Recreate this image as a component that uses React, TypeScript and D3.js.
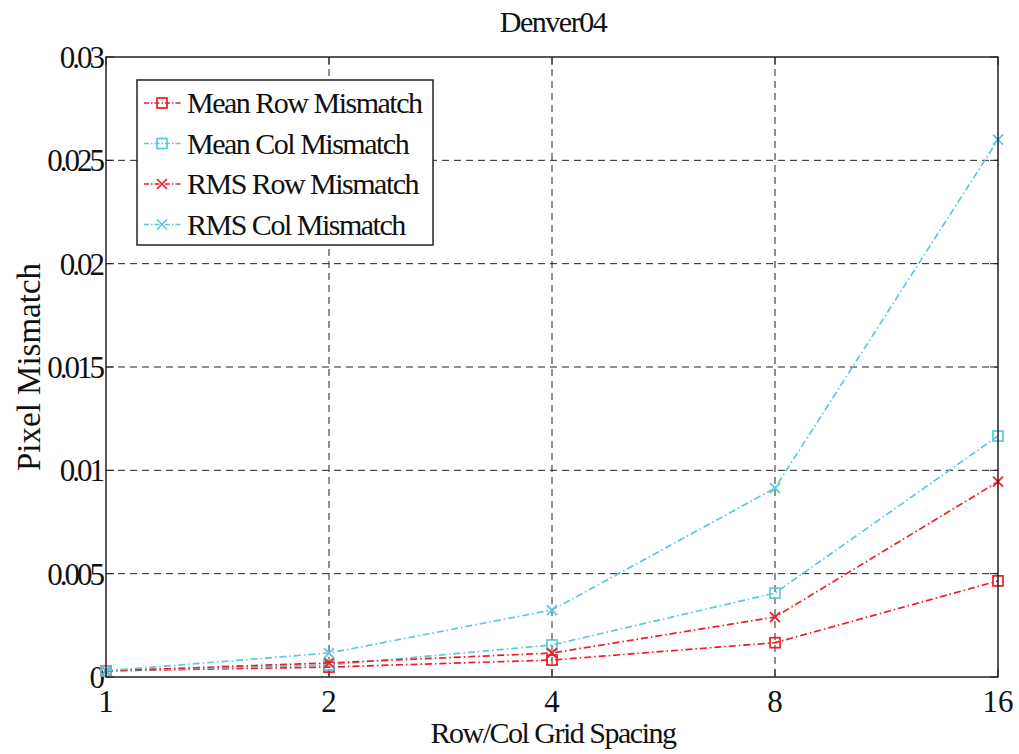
import React from "react";
import * as d3 from "d3";

const spacing = [1, 2, 4, 8, 16];
const meanRow = [0.0003, 0.00048, 0.00082, 0.00166, 0.00465];
const meanCol = [0.0003, 0.00058, 0.00155, 0.00406, 0.01166];
const rmsRow = [0.0003, 0.00068, 0.00116, 0.0029, 0.00945];
const rmsCol = [0.0003, 0.00116, 0.00324, 0.00914, 0.026];
const yTicks = [0, 0.005, 0.01, 0.015, 0.02, 0.025, 0.03];
const yTickLabels = ["0", "0.005", "0.01", "0.015", "0.02", "0.025", "0.03"];

const RED = "#ee1c24";
const CYAN = "#5cc8dc";

const series = [
  { name: "Mean Row Mismatch", values: meanRow, color: RED, marker: "square" },
  { name: "Mean Col Mismatch", values: meanCol, color: CYAN, marker: "square" },
  { name: "RMS Row Mismatch", values: rmsRow, color: RED, marker: "x" },
  { name: "RMS Col Mismatch", values: rmsCol, color: CYAN, marker: "x" },
];

const W = 1019;
const H = 754;
const left = 106;
const right = 998;
const top = 57;
const bottom = 677;
const font = "'Liberation Serif', 'Times New Roman', serif";
const dashDot = "7,3,1.5,3";

function Marker({ kind, x, y, color }: { kind: string; x: number; y: number; color: string }) {
  if (kind === "square") {
    return <rect x={x - 5} y={y - 5} width={10} height={10} fill="none" stroke={color} strokeWidth={1.7} />;
  }
  return (
    <path
      d={`M${x - 5},${y - 5}L${x + 5},${y + 5}M${x - 5},${y + 5}L${x + 5},${y - 5}`}
      stroke={color}
      strokeWidth={1.7}
    />
  );
}

export default function App() {
  const x = d3.scaleLog().base(2).domain([1, 16]).range([left, right]);
  const y = d3.scaleLinear().domain([0, 0.03]).range([bottom, top]);
  const line = d3
    .line<number>()
    .x((_, i) => x(spacing[i]))
    .y((d) => y(d));

  return (
    <svg width={W} height={H} style={{ position: "absolute", left: 0, top: 0, background: "#fff" }}>
      <rect x={0} y={0} width={W} height={H} fill="#fff" />
      {/* grid */}
      {spacing.slice(1, -1).map((s) => (
        <line key={"gx" + s} x1={x(s)} x2={x(s)} y1={top} y2={bottom} stroke="#222" strokeDasharray="7,5" strokeWidth={1} />
      ))}
      {yTicks.slice(1, -1).map((t) => (
        <line key={"gy" + t} x1={left} x2={right} y1={y(t)} y2={y(t)} stroke="#222" strokeDasharray="7,5" strokeWidth={1} />
      ))}
      {/* ticks */}
      {spacing.map((s) => (
        <g key={"tx" + s}>
          <line x1={x(s)} x2={x(s)} y1={bottom} y2={bottom - 8} stroke="#222" />
          <line x1={x(s)} x2={x(s)} y1={top} y2={top + 8} stroke="#222" />
          <text x={x(s)} y={bottom + 35} textAnchor="middle" fontFamily={font} fontSize={31} fill="#111">
            {s}
          </text>
        </g>
      ))}
      {yTicks.map((t, i) => (
        <g key={"ty" + t}>
          <line x1={left} x2={left + 8} y1={y(t)} y2={y(t)} stroke="#222" />
          <line x1={right} x2={right - 8} y1={y(t)} y2={y(t)} stroke="#222" />
          <text x={left - 4} y={y(t) + 11} textAnchor="end" fontFamily={font} fontSize={31} fill="#111" letterSpacing={-3}>
            {yTickLabels[i]}
          </text>
        </g>
      ))}
      {/* series */}
      {series.map((s) => (
        <g key={s.name}>
          <path d={line(s.values) ?? ""} fill="none" stroke={s.color} strokeWidth={1.7} strokeDasharray={dashDot} />
          {s.values.map((v, i) => (
            <Marker key={i} kind={s.marker} x={x(spacing[i])} y={y(v)} color={s.color} />
          ))}
        </g>
      ))}
      <rect x={left} y={top} width={right - left} height={bottom - top} fill="none" stroke="#222" strokeWidth={1.5} />
      {/* legend */}
      <rect x={137} y={80} width={296} height={165} fill="#fff" stroke="#222" strokeWidth={1.5} />
      {series.map((s, i) => {
        const ly = 103 + i * 40.5;
        return (
          <g key={"lg" + s.name}>
            <line x1={144} x2={181} y1={ly} y2={ly} stroke={s.color} strokeWidth={1.7} strokeDasharray="5,2,1.5,2" />
            <Marker kind={s.marker} x={162} y={ly} color={s.color} />
            <text x={187} y={ly + 10} fontFamily={font} fontSize={30} fill="#111" letterSpacing={-1.5}>
              {s.name}
            </text>
          </g>
        );
      })}
      {/* labels */}
      <text x={553} y={32} textAnchor="middle" fontFamily={font} fontSize={30} fill="#111" letterSpacing={-1.5}>
        Denver04
      </text>
      <text x={553} y={743} textAnchor="middle" fontFamily={font} fontSize={30} fill="#111" letterSpacing={-1.5}>
        Row/Col Grid Spacing
      </text>
      <text
        transform={`translate(40,${(top + bottom) / 2}) rotate(-90)`}
        textAnchor="middle"
        fontFamily={font}
        fontSize={33}
        fill="#111"
        letterSpacing={0}
      >
        Pixel Mismatch
      </text>
    </svg>
  );
}
